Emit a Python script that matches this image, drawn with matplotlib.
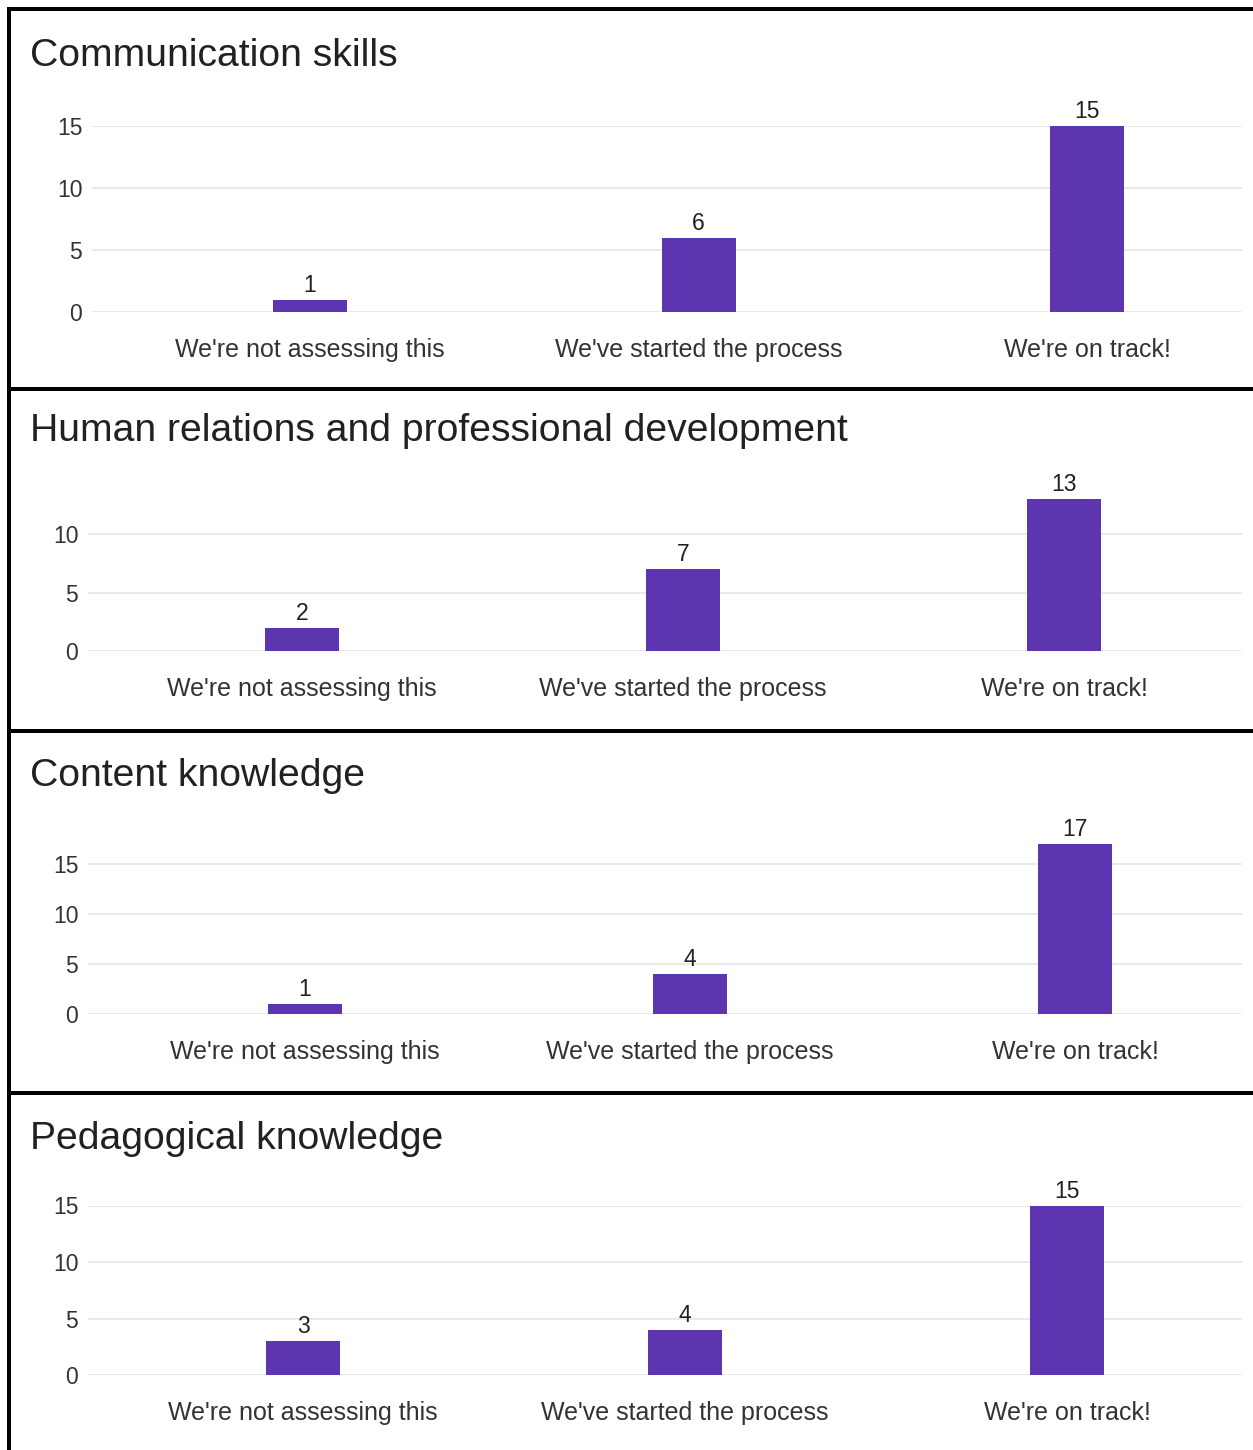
import matplotlib
matplotlib.use("Agg")
import matplotlib.pyplot as plt
from matplotlib.patches import Rectangle

plt.rcParams['font.family'] = ['Liberation Sans', 'DejaVu Sans']

# Survey results: one panel per competency area
categories = ["We're not assessing this", "We've started the process", "We're on track!"]
titles = [
    "Communication skills",
    "Human relations and professional development",
    "Content knowledge",
    "Pedagogical knowledge",
]
communication = [1, 6, 15]
human_relations = [2, 7, 13]
content = [1, 4, 17]
pedagogical = [3, 4, 15]
series = [communication, human_relations, content, pedagogical]
yticks = [[0, 5, 10, 15], [0, 5, 10], [0, 5, 10, 15], [0, 5, 10, 15]]

# Layout in pixels: grid left, first/last bar centre, zero line, px per unit, title baseline
W, H = 1253, 1450
layout = [
    dict(gl=92, c0=310, c2=1087, y0=312, ppu=12.4, tb=66),
    dict(gl=88, c0=302, c2=1064, y0=651, ppu=11.7, tb=441),
    dict(gl=88, c0=305, c2=1075, y0=1014, ppu=10.0, tb=786),
    dict(gl=88, c0=303, c2=1067, y0=1375, ppu=11.3, tb=1149),
]
grid_right = 1242
bar_px = 74
bar_color = "#5e35b1"
text_dark = "#212121"
text_mid = "#333333"

fig = plt.figure(figsize=(W / 100, H / 100), dpi=100)
fig.patch.set_facecolor("white")

for vals, title, ticks, lay in zip(series, titles, yticks, layout):
    spacing = (lay["c2"] - lay["c0"]) / 2
    ytop = max(max(vals), max(ticks))
    height_px = ytop * lay["ppu"]
    left = lay["gl"] / W
    width = (grid_right - lay["gl"]) / W
    bottom = (H - lay["y0"]) / H
    ax = fig.add_axes([left, bottom, width, height_px / H])
    x = list(range(len(categories)))
    ax.bar(x, vals, width=bar_px / spacing, color=bar_color, zorder=3)
    ax.set_xlim(-(lay["c0"] - lay["gl"]) / spacing, 2 + (grid_right - lay["c2"]) / spacing)
    ax.set_ylim(0, ytop)
    ax.set_yticks(ticks)
    ax.set_xticks(x)
    ax.set_xticklabels(categories, fontsize=18, color=text_mid)
    ax.tick_params(axis='x', length=0, pad=18.5)
    ax.tick_params(axis='y', length=0, pad=7, labelsize=16.5, labelcolor=text_mid)
    ax.grid(axis='y', color="#e6e6e6", linewidth=1.2, zorder=0)
    for s in ax.spines.values():
        s.set_visible(False)
    for xi, v in zip(x, vals):
        ax.annotate(str(v), (xi, v), xytext=(0, 2), textcoords='offset points',
                    ha='center', va='bottom', fontsize=16.5, color=text_dark,
                    annotation_clip=False)
    fig.text(30 / W, (H - lay["tb"]) / H, title, fontsize=28.2, color=text_dark,
             ha='left', va='baseline')

# Black frame: left and top edges plus separators between panels
def hbar(y_top_px, thick=4):
    fig.add_artist(Rectangle((7 / W, (H - y_top_px - thick) / H), 1, thick / H,
                             transform=fig.transFigure, color="black", lw=0))

fig.add_artist(Rectangle((7 / W, 0), 4 / W, (H - 7) / H,
                         transform=fig.transFigure, color="black", lw=0))
for y in [7, 387, 729, 1091]:
    hbar(y)

fig.savefig("out.png", dpi=100, facecolor="white")
